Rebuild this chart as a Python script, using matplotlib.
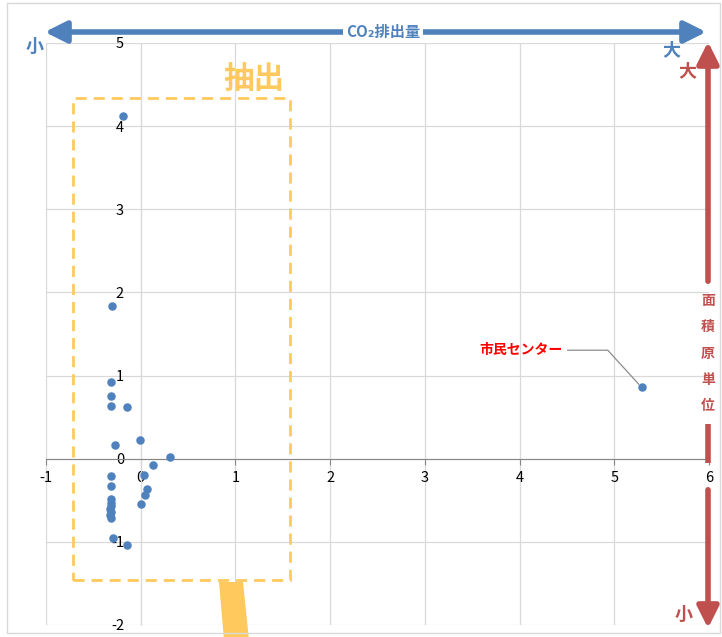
import numpy as np
import matplotlib
matplotlib.use('Agg')
import matplotlib.pyplot as plt
from matplotlib.patches import Rectangle, Polygon, FancyArrowPatch
from matplotlib.lines import Line2D

plt.rcParams['font.family'] = ['Noto Sans CJK JP', 'DejaVu Sans']
plt.rcParams['axes.unicode_minus'] = False

# data
xs = [-0.19, -0.30, -0.31, -0.31, -0.31, -0.14, -0.01, -0.27, 0.31, 0.13,
      0.035, 0.07, 0.05, 0.00, -0.31, -0.31, -0.31, -0.31, -0.31, -0.32,
      -0.31, -0.32, -0.31, -0.29, -0.14, 5.29]
ys = [4.12, 1.84, 0.92, 0.75, 0.64, 0.62, 0.22, 0.16, 0.02, -0.08,
      -0.19, -0.36, -0.44, -0.54, -0.21, -0.33, -0.48, -0.53, -0.57, -0.61,
      -0.64, -0.68, -0.71, -0.95, -1.04, 0.86]
label_idx = 25
label_text = '市民センター'
x_ticks = [-1, 0, 1, 2, 3, 4, 5, 6]
y_ticks = [-2, -1, 0, 1, 2, 3, 4, 5]

BLUE = '#4F81BD'
RED = '#C0504D'
ORANGE = '#FFC95E'
GRID = '#D9D9D9'

W, H = 722, 637
fig = plt.figure(figsize=(W / 100, H / 100), dpi=100, facecolor='white')

def fx(px):
  return px / W

def fy(py):
  return 1 - py / H

ax = fig.add_axes([fx(46), fy(625), fx(709) - fx(46), fy(43) - fy(625)])
ax.set_xlim(-1, 6)
ax.set_ylim(-2, 5)
ax.set_xticks(x_ticks)
ax.set_yticks(y_ticks)
ax.grid(True, color=GRID, linewidth=0.9)
ax.set_axisbelow(True)
for ln in ax.get_xgridlines() + ax.get_ygridlines():
  ln.set_clip_on(False)

for s in ['top', 'right']:
  ax.spines[s].set_visible(False)
ax.spines['left'].set_position(('data', 0))
ax.spines['left'].set_color(GRID)
ax.spines['bottom'].set_position(('data', 0))
ax.spines['bottom'].set_color('#868686')
ax.tick_params(axis='x', length=4, color='#868686', pad=5, labelsize=10.5)
ax.tick_params(axis='y', length=0, pad=12, labelsize=10.5)

ax.scatter(xs, ys, s=26, color=BLUE, zorder=3, clip_on=False)

# leader label
fig.canvas.draw()
px, py = ax.transData.transform((xs[label_idx], ys[label_idx]))
bend = (px - 34, py + 37)
start = (px - 74, py + 37)
fig.add_artist(Line2D([start[0], bend[0], px - 3], [start[1], bend[1], py + 3],
                      transform=None, color='#8C8C8C', linewidth=0.9))
fig.text(fx(563), fy(350), label_text, ha='right', va='center', color='#FF0000',
         fontsize=10, fontweight='bold')

# extraction box and pointer
fig.add_artist(Rectangle((fx(73), fy(580)), fx(290) - fx(73), fy(98) - fy(580),
                         transform=fig.transFigure, fill=False, edgecolor=ORANGE,
                         linewidth=2, linestyle=(0, (4, 2.5))))
fig.add_artist(Polygon([(fx(219), fy(582)), (fx(243), fy(582)), (fx(249), fy(640)),
                        (fx(224), fy(640))], closed=True, transform=fig.transFigure,
                       facecolor=ORANGE, edgecolor='none'))
fig.text(fx(254), fy(79), '抽出', ha='center', va='center', color=ORANGE,
         fontsize=22, fontweight='bold')

# CO2 arrow (top)
fig.add_artist(FancyArrowPatch((fx(42), fy(32)), (fx(709), fy(32)), transform=fig.transFigure,
                               arrowstyle='<|-|>,head_length=13,head_width=6.5',
                               mutation_scale=1, linewidth=4, color=BLUE))
fig.text(fx(383), fy(32), 'CO₂排出量', ha='center', va='center', color=BLUE,
         fontsize=11, fontweight='bold',
         bbox=dict(facecolor='white', edgecolor='none', pad=2))
fig.text(fx(35), fy(46), '小', ha='center', va='center', color=BLUE,
         fontsize=13, fontweight='bold')
fig.text(fx(671), fy(50), '大', ha='center', va='center', color=BLUE,
         fontsize=13, fontweight='bold')

# area intensity arrow (right)
ax_x = fx(708)
fig.add_artist(FancyArrowPatch((ax_x, fy(284)), (ax_x, fy(39)), transform=fig.transFigure,
                               arrowstyle='-|>,head_length=13,head_width=6.5',
                               mutation_scale=1, linewidth=4, color=RED))
fig.add_artist(Line2D([ax_x, ax_x], [fy(424), fy(463)], transform=fig.transFigure,
                      color=RED, linewidth=4, solid_capstyle='butt'))
fig.add_artist(FancyArrowPatch((ax_x, fy(487)), (ax_x, fy(631)), transform=fig.transFigure,
                               arrowstyle='-|>,head_length=13,head_width=6.5',
                               mutation_scale=1, linewidth=4, color=RED))
for i, ch in enumerate('面積原単位'):
  fig.text(ax_x, fy(301 + i * 26.3), ch, ha='center', va='center', color=RED,
           fontsize=10, fontweight='bold')
fig.text(fx(687), fy(71), '大', ha='center', va='center', color=RED,
         fontsize=13, fontweight='bold')
fig.text(fx(684), fy(614), '小', ha='center', va='center', color=RED,
         fontsize=13, fontweight='bold')

# chart area border
fig.add_artist(Rectangle((fx(7), fy(633)), fx(720) - fx(7), fy(3) - fy(633),
                         transform=fig.transFigure, fill=False, edgecolor=GRID, linewidth=1))

fig.savefig('out.png', dpi=100)
